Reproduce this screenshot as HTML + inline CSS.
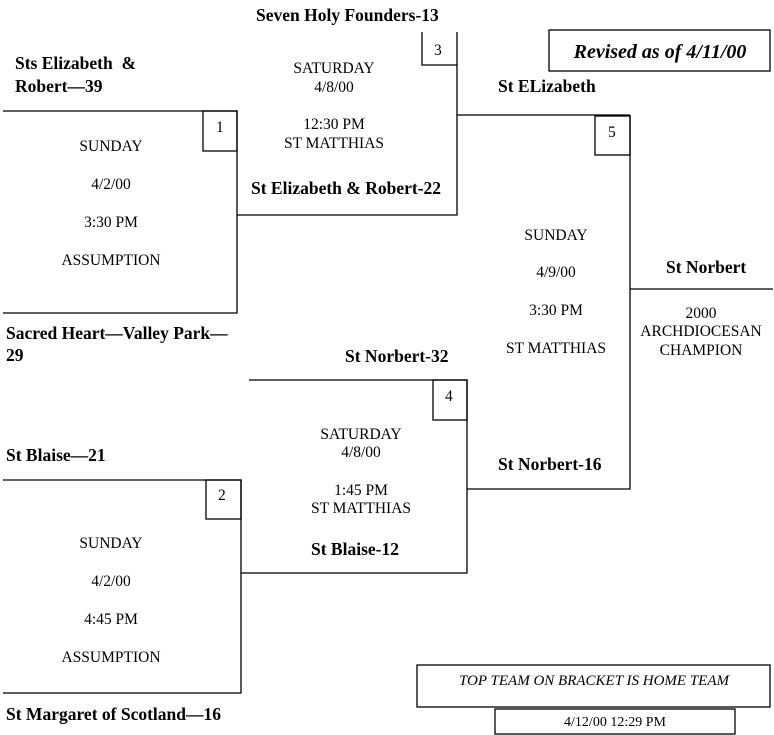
<!DOCTYPE html>
<html><head><meta charset="utf-8"><style>
html,body{margin:0;padding:0;background:#fff;width:774px;height:735px;overflow:hidden}
svg text{font-family:"Liberation Serif",serif;fill:#000}
.b{font-size:17.5px;font-weight:bold}
.s{font-size:15.5px}
</style></head><body>
<svg width="774" height="735" viewBox="0 0 774 735" xmlns="http://www.w3.org/2000/svg">
<g stroke="#000" stroke-width="1.3" fill="none">
<path d="M3 111H237V313H3"/>
<rect x="203" y="111" width="34" height="40"/>
<path d="M457 32V215H237"/>
<path d="M422 32V65H457"/>
<path d="M457 115H630"/>
<path d="M630 115V489H467"/>
<rect x="595" y="116" width="35" height="39"/>
<path d="M630 289H773"/>
<path d="M249 380H467V573H241"/>
<rect x="433" y="380" width="34" height="40"/>
<path d="M3 480H241V693H3"/>
<rect x="206" y="480" width="35" height="39"/>
<rect x="549" y="30" width="221" height="41"/>
<rect x="417" y="665" width="353" height="42"/>
<rect x="495" y="709" width="240" height="25"/>
</g>
<text class="b" x="256" y="21">Seven Holy Founders-13</text>
<text class="b" x="15" y="69" xml:space="preserve">Sts Elizabeth  &amp;</text>
<text class="b" x="15" y="92">Robert—39</text>
<text class="s" x="216" y="132">1</text>
<text class="s" x="434" y="55">3</text>
<text class="s" x="608" y="137">5</text>
<text class="s" x="445" y="401">4</text>
<text class="s" x="218" y="500">2</text>
<g class="s" text-anchor="middle">
<text x="111" y="151">SUNDAY</text>
<text x="111" y="189">4/2/00</text>
<text x="111" y="227">3:30 PM</text>
<text x="111" y="265">ASSUMPTION</text>
<text x="334" y="73">SATURDAY</text>
<text x="334" y="92">4/8/00</text>
<text x="334" y="129">12:30 PM</text>
<text x="334" y="148">ST MATTHIAS</text>
<text x="556" y="240">SUNDAY</text>
<text x="556" y="277">4/9/00</text>
<text x="556" y="315">3:30 PM</text>
<text x="556" y="353">ST MATTHIAS</text>
<text x="701" y="318">2000</text>
<text x="701" y="336">ARCHDIOCESAN</text>
<text x="701" y="355">CHAMPION</text>
<text x="361" y="439">SATURDAY</text>
<text x="361" y="457">4/8/00</text>
<text x="361" y="495">1:45 PM</text>
<text x="361" y="513">ST MATTHIAS</text>
<text x="111" y="548">SUNDAY</text>
<text x="111" y="586">4/2/00</text>
<text x="111" y="624">4:45 PM</text>
<text x="111" y="662">ASSUMPTION</text>
<text x="615" y="726" font-size="14">4/12/00 12:29 PM</text>
</g>
<text class="b" x="251" y="194">St Elizabeth &amp; Robert-22</text>
<text class="b" x="498" y="92">St ELizabeth</text>
<text class="b" x="666" y="273">St Norbert</text>
<text class="b" x="6" y="339">Sacred Heart—Valley Park—</text>
<text class="b" x="6" y="361">29</text>
<text class="b" x="345" y="362">St Norbert-32</text>
<text class="b" x="6" y="461">St Blaise—21</text>
<text class="b" x="498" y="470">St Norbert-16</text>
<text class="b" x="311" y="555">St Blaise-12</text>
<text class="b" x="6" y="720">St Margaret of Scotland—16</text>
<text x="660" y="58" font-size="20" font-weight="bold" font-style="italic" text-anchor="middle">Revised as of 4/11/00</text>
<text x="594" y="685" font-size="15" font-style="italic" text-anchor="middle">TOP TEAM ON BRACKET IS HOME TEAM</text>
</svg>
</body></html>
